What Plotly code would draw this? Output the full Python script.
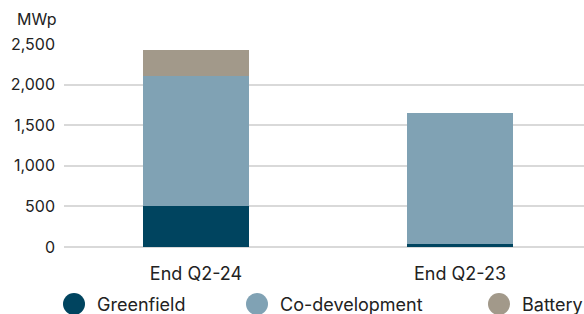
import plotly.graph_objects as go

categories = ["End Q2-24", "End Q2-23"]
series_names = ["Greenfield", "Co-development", "Battery"]
greenfield = [510, 40]
co_development = [1600, 1610]
battery = [320, 0]
series_values = [greenfield, co_development, battery]
colors = ["#00445f", "#80a2b4", "#a2998a"]
y_ticks = [0, 500, 1000, 1500, 2000, 2500]
y_tick_labels = ["0", "500", "1,000", "1,500", "2,000", "2,500"]

FONT = "Inter"
TXT = "#222222"

fig = go.Figure()
for name, vals, col in zip(series_names, series_values, colors):
    fig.add_trace(go.Bar(x=categories, y=vals, name=name, marker=dict(color=col, line=dict(width=0)),
                         width=0.4, showlegend=False))

fig.update_layout(
    barmode="stack",
    width=584, height=314,
    margin=dict(l=64, r=0, t=44, b=67),
    paper_bgcolor="white", plot_bgcolor="white",
    font=dict(family=FONT, size=16, color=TXT),
    xaxis=dict(range=[-0.5, 1.4697], showgrid=False, showline=False, ticks="",
               ticklabelstandoff=14, tickfont=dict(size=18, color=TXT)),
    yaxis=dict(range=[0, 2500], tickvals=y_ticks, ticktext=y_tick_labels,
               showgrid=True, gridcolor="#d9d9d9", gridwidth=2,
               zeroline=True, zerolinecolor="#d9d9d9", zerolinewidth=2,
               showline=False, ticks="", ticklabelstandoff=8,
               tickfont=dict(size=16, color=TXT)),
)

fig.add_annotation(text="MWp", xref="paper", yref="paper", x=-64/520 + 15/520, y=1 + 25/203,
                   xanchor="left", yanchor="middle", showarrow=False,
                   font=dict(family=FONT, size=16, color=TXT))

# manual legend
legend_x = [74, 257, 499]
legend_y = 304
for name, col, cx in zip(series_names, colors, legend_x):
    fig.add_shape(type="circle", xref="paper", yref="paper",
                  x0=(cx - 11 - 64) / 520, x1=(cx + 11 - 64) / 520,
                  y0=(247 - (legend_y + 11)) / 203, y1=(247 - (legend_y - 11)) / 203,
                  fillcolor=col, line=dict(width=0))
    fig.add_annotation(text=name, xref="paper", yref="paper",
                       x=(cx + 21 - 64) / 520, y=(247 - legend_y) / 203,
                       xanchor="left", yanchor="middle", showarrow=False,
                       font=dict(family=FONT, size=18, color=TXT))

fig.write_html("out.html", config={"displayModeBar": False},
               post_script="document.body.style.margin='0';document.body.style.overflow='hidden';")
